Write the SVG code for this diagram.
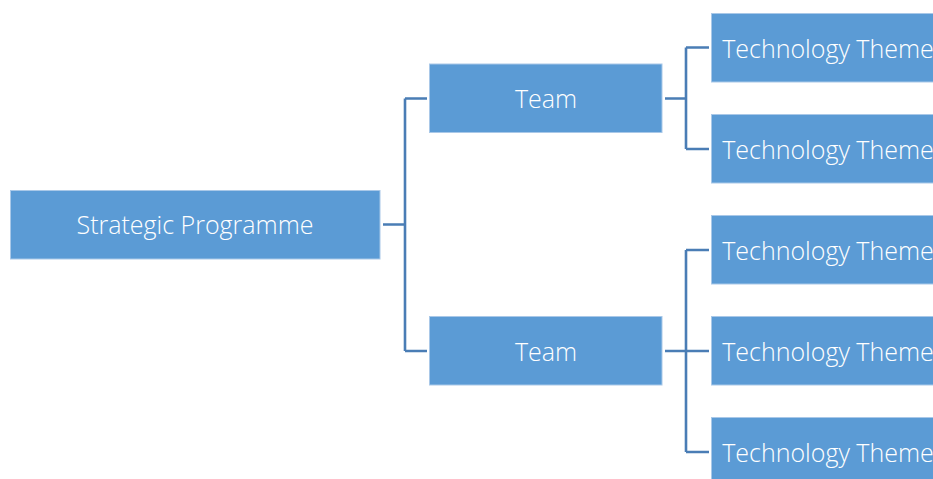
<svg xmlns="http://www.w3.org/2000/svg" width="933" height="479" viewBox="0 0 933 479">
  <style>
    .box { fill: #5b9bd5; stroke: #a9c8e8; stroke-width: 1; }
    .lbl { fill: #ffffff; font-family: "Open Sans", "Noto Sans", "Liberation Sans", sans-serif; font-weight: 300; font-size: 25px; text-anchor: middle; }
    .wire { fill: none; stroke: #4a7db5; stroke-width: 2.6; }
  </style>
  <rect width="933" height="479" fill="#ffffff"/>

  <!-- tree connectors -->
  <g id="connectors">
    <path class="wire" d="M383 224.5 H405 M405 98.5 V351 M405 98.5 H427 M405 351 H427"/>
    <path class="wire" d="M665 98.5 H686 M686 47.5 V149 M686 47.5 H709 M686 149 H709"/>
    <path class="wire" d="M665 351 H686 M686 250 V452 M686 250 H709 M686 351 H709 M686 452 H709"/>
  </g>

  <g id="programme">
    <rect class="box" x="10.5" y="190.5" width="369.5" height="68.5"/>
    <text class="lbl" x="195" y="233.5">Strategic Programme</text>
  </g>

  <g id="team-1">
    <rect class="box" x="429.5" y="64" width="232.5" height="68.5"/>
    <text class="lbl" x="546" y="108">Team</text>
  </g>
  <g id="team-2">
    <rect class="box" x="429.5" y="316.5" width="232.5" height="68.5"/>
    <text class="lbl" x="546" y="360.5">Team</text>
  </g>

  <g id="theme-1">
    <rect class="box" x="711.5" y="13.5" width="232.5" height="68.5"/>
    <text class="lbl" x="828" y="57.5">Technology Theme</text>
  </g>
  <g id="theme-2">
    <rect class="box" x="711.5" y="114.5" width="232.5" height="68.5"/>
    <text class="lbl" x="828" y="158.5">Technology Theme</text>
  </g>
  <g id="theme-3">
    <rect class="box" x="711.5" y="215.5" width="232.5" height="68.5"/>
    <text class="lbl" x="828" y="259.5">Technology Theme</text>
  </g>
  <g id="theme-4">
    <rect class="box" x="711.5" y="316.5" width="232.5" height="68.5"/>
    <text class="lbl" x="828" y="360.5">Technology Theme</text>
  </g>
  <g id="theme-5">
    <rect class="box" x="711.5" y="417.5" width="232.5" height="68.5"/>
    <text class="lbl" x="828" y="461.5">Technology Theme</text>
  </g>
</svg>
